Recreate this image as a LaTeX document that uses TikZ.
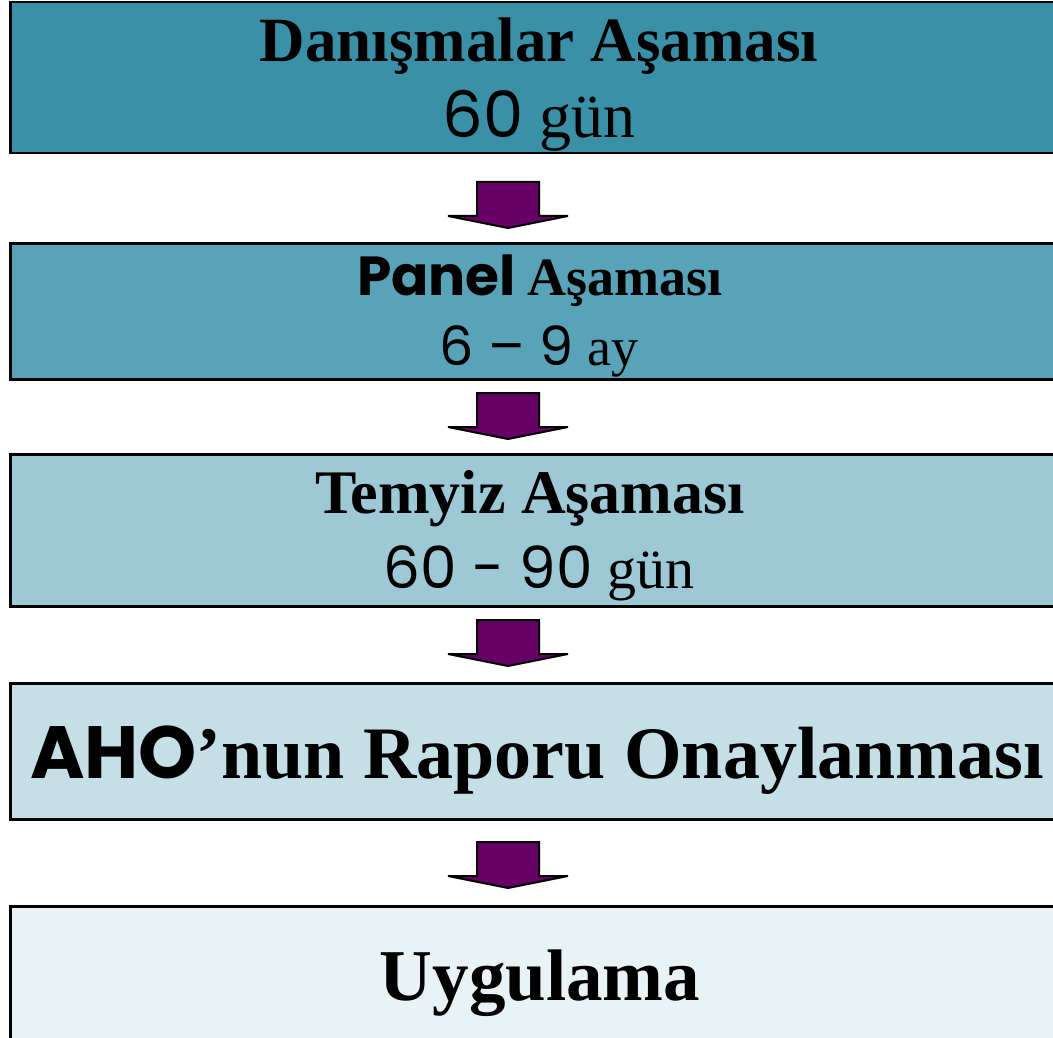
\documentclass[tikz,border=0pt]{standalone}
\usepackage{fontspec}
\setmainfont{Liberation Serif}
\newfontfamily\geo{Poppins}
\definecolor{cone}{HTML}{3A90A6}
\definecolor{ctwo}{HTML}{58A3B7}
\definecolor{cthree}{HTML}{9DC8D5}
\definecolor{cfour}{HTML}{C4DFE6}
\definecolor{cfive}{HTML}{E9F3F6}
\definecolor{arrowc}{HTML}{660066}
\newcommand{\fsz}[1]{\fontsize{#1}{#1}\selectfont}
\begin{document}
\begin{tikzpicture}[x=1pt,y=-1pt,
  stagebox/.style={draw=black,line width=2.5pt,inner sep=0pt,anchor=north west,minimum width=1150pt},
  stagetext/.style={anchor=base,inner sep=0pt},
  downarr/.pic={\draw[fill=arrowc,line width=2pt,line join=miter]
     (-31,0) -- (31,0) -- (31,34) -- (60,34) -- (0,46) -- (-60,34) -- (-31,34) -- cycle;}
]
\path[use as bounding box] (0,0) rectangle (1053,1038);
\clip (0,0) rectangle (1053,1038);
\fill[white] (0,0) rectangle (1053,1038);
\node[stagebox,fill=cone,minimum height=151pt] (b1) at (9,1) {};
\node[stagebox,fill=ctwo,minimum height=136pt] (b2) at (9,242) {};
\node[stagebox,fill=cthree,minimum height=152pt] (b3) at (9,453) {};
\node[stagebox,fill=cfour,minimum height=136pt] (b4) at (9,682) {};
\node[stagebox,fill=cfive,minimum height=145pt] (b5) at (9,905) {};

\node[stagetext,font=\bfseries\fsz{63}] (t1a) at (539,62) {Danışmalar Aşaması};
\node[stagetext,font=\fsz{64}] (t1b) at (539,138) {{\geo 60} gün};
\node[stagetext] (t2a) at (540,295) {{\geo\bfseries\fsz{55}Panel }{\bfseries\fsz{54}Aşaması}};
\node[stagetext,font=\fsz{54}] (t2b) at (539,365) {{\geo 6 – 9} ay};
\node[stagetext,font=\bfseries\fsz{62}] (t3a) at (530,513) {Temyiz Aşaması};
\node[stagetext,font=\fsz{58}] (t3b) at (539,588) {{\geo 60 - 90} gün};
\node[stagetext,font=\bfseries\fsz{74}] (t4) at (537,778) {{\geo AHO}’nun Raporu Onaylanması};
\node[stagetext,font=\bfseries\fsz{73}] (t5) at (540,1000) {Uygulama};

\pic at (508,182) {downarr};
\pic at (508,393) {downarr};
\pic at (508,620) {downarr};
\pic at (508,842) {downarr};
\end{tikzpicture}
\end{document}
